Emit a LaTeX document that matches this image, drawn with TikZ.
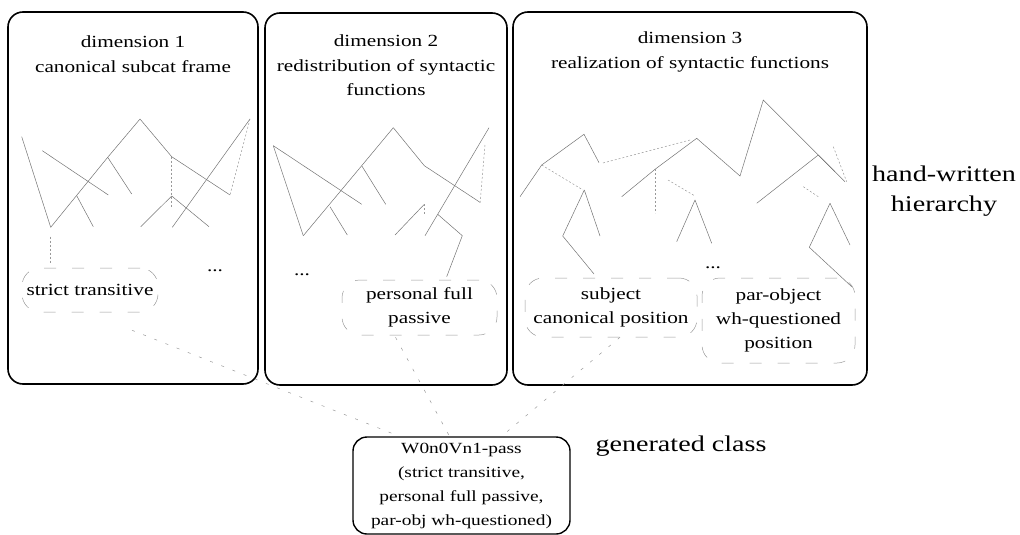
\documentclass[tikz,border=0pt]{standalone}
\usepackage{fontspec}
\setmainfont[FakeStretch=1.25]{Liberation Serif}
\usetikzlibrary{calc}
\begin{document}
\begin{tikzpicture}[x=1pt,y=-1pt,
  panel/.style={draw=black, line width=1.6pt, rounded corners=15pt, inner sep=0pt},
  genbox/.style={draw=black, line width=1.4pt, rounded corners=14pt, inner sep=0pt},
  oval/.style={draw=black!40, line width=0.5pt, dash pattern=on 12pt off 16pt, rounded corners=18pt, inner sep=0pt, align=center, font=\fontsize{17}{24}\selectfont},
  ttl/.style={align=center, font=\fontsize{17}{24.5}\selectfont, inner sep=0pt},
  big/.style={align=center, font=\fontsize{22.5}{30}\selectfont, inner sep=0pt},
  tree/.style={draw=black!55, line width=0.5pt},
  ftree/.style={draw=black!40, line width=0.5pt, dash pattern=on 2pt off 2pt},
  conn/.style={draw=black!40, line width=0.5pt, dash pattern=on 3pt off 9pt}]
\useasboundingbox (0,0) rectangle (1020,535);

% panels
\node[panel, minimum width=250pt, minimum height=372pt] (p1) at (133,198) {};
\node[panel, minimum width=242pt, minimum height=372pt] (p2) at (386,199) {};
\node[panel, minimum width=354pt, minimum height=373pt] (p3) at (690,198.5) {};

% titles
\node[ttl] (t1) at (133,54) {dimension 1\\canonical subcat frame};
\node[ttl] (t2) at (386,65.5) {dimension 2\\redistribution of syntactic\\functions};
\node[ttl] (t3) at (690,52) {dimension 3\\realization of syntactic functions};

% ovals
\node[oval, minimum width=136pt, minimum height=44pt] (st) at (90,290) {strict transitive};
\node[oval, minimum width=155pt, minimum height=55pt] (pp) at (419.5,307.5) {personal full\\passive};
\node[oval, minimum width=172pt, minimum height=59pt] (sc) at (611,307.5) {subject\\canonical position};
\node[oval, minimum width=153pt, minimum height=85pt] (po) at (778.5,320.5) {par-object\\wh-questioned\\position};

% dots
\node[ttl] (d1) at (215,271) {...};
\node[ttl] (d2) at (302,275) {...};
\node[ttl] (d3) at (713,268) {...};

% generated class box
\node[genbox, minimum width=217pt, minimum height=97pt, align=center, font=\fontsize{15.5}{24}\selectfont] (gen) at (461.5,485.5) {W0n0Vn1-pass\\(strict transitive,\\personal full passive,\\par-obj wh-questioned)};

% side labels
\node[big] (hw) at (944,191) {hand-written\\hierarchy};
\node[big] (gc) at (681,446) {generated class};

% connectors
\draw[conn] ($(st.south)+(42,18)$) -- ($(gen.north)+(-62,0)$);
\draw[conn] ($(pp.south)+(-24,2)$) -- ($(gen.north)+(-12,0)$);
\draw[conn] ($(sc.south)+(9,0)$) -- ($(gen.north)+(40,0)$);

% tree panel 1
\draw[tree] (21.7,136.7) -- (50.7,227.3);
\draw[tree] (42.3,150.7) -- (108.3,195);
\draw[tree] (140,119) -- (107.7,157.3) -- (50.7,227.3);
\draw[tree] (107.7,157.3) -- (131.7,194);
\draw[tree] (76.7,195.7) -- (93.3,226.7);
\draw[tree] (140,119) -- (171.7,156.7) -- (230,195);
\draw[ftree] (171.7,156.7) -- (171.7,208);
\draw[tree] (171.7,196) -- (140.7,226.7);
\draw[tree] (171.7,196) -- (209,226.7);
\draw[tree] (250,119) -- (172.3,227.3);
\draw[ftree] (250,119) -- (230,195);
\draw[ftree] (50.7,236.7) -- (50.7,263.3);

% tree panel 2
\draw[tree] (273.3,145.7) -- (303.3,235.7);
\draw[tree] (273.3,145.7) -- (361.7,204.3);
\draw[tree] (393.3,127.7) -- (361.7,165.7) -- (303.3,235.7);
\draw[tree] (361.7,165.7) -- (385.7,204.3);
\draw[tree] (330,206.7) -- (347.3,235);
\draw[tree] (393.3,127.7) -- (424.3,165.7) -- (480,202.3);
\draw[tree] (489,127.7) -- (425,235.7);
\draw[ftree] (485,145) -- (480,204.3);
\draw[tree] (424.3,204.3) -- (395,235);
\draw[ftree] (424.3,204.3) -- (424.3,215);
\draw[tree] (437.7,214.3) -- (462.3,235.7) -- (446.7,276.7);

% tree panel 3
\draw[tree] (520,196.7) -- (541.7,165) -- (584,134.3) -- (599,162.7);
\draw[ftree] (603,163) -- (690,140);
\draw[ftree] (541.7,165) -- (583,190);
\draw[tree] (584.3,190) -- (562.7,236) -- (594,274);
\draw[tree] (584.3,190) -- (600,236);
\draw[tree] (621.7,196.7) -- (655,169.3) -- (696.7,138.3) -- (740,176) -- (763.3,100) -- (803.3,140) -- (845,181.7);
\draw[ftree] (655,169.3) -- (655,213.3);
\draw[ftree] (668,180) -- (695,196);
\draw[tree] (695,200) -- (676.7,241.7);
\draw[tree] (695,200) -- (711.7,243.3);
\draw[ftree] (833.3,146.7) -- (846.7,181.7);
\draw[tree] (818.3,155) -- (756.7,203.3);
\draw[tree] (818.3,155) -- (835,171.7);
\draw[ftree] (803.3,186.7) -- (818.3,196.7);
\draw[tree] (830,203.3) -- (809.3,247.3) -- (851.7,286.7);
\draw[tree] (830,203.3) -- (850,245);
\end{tikzpicture}
\end{document}
